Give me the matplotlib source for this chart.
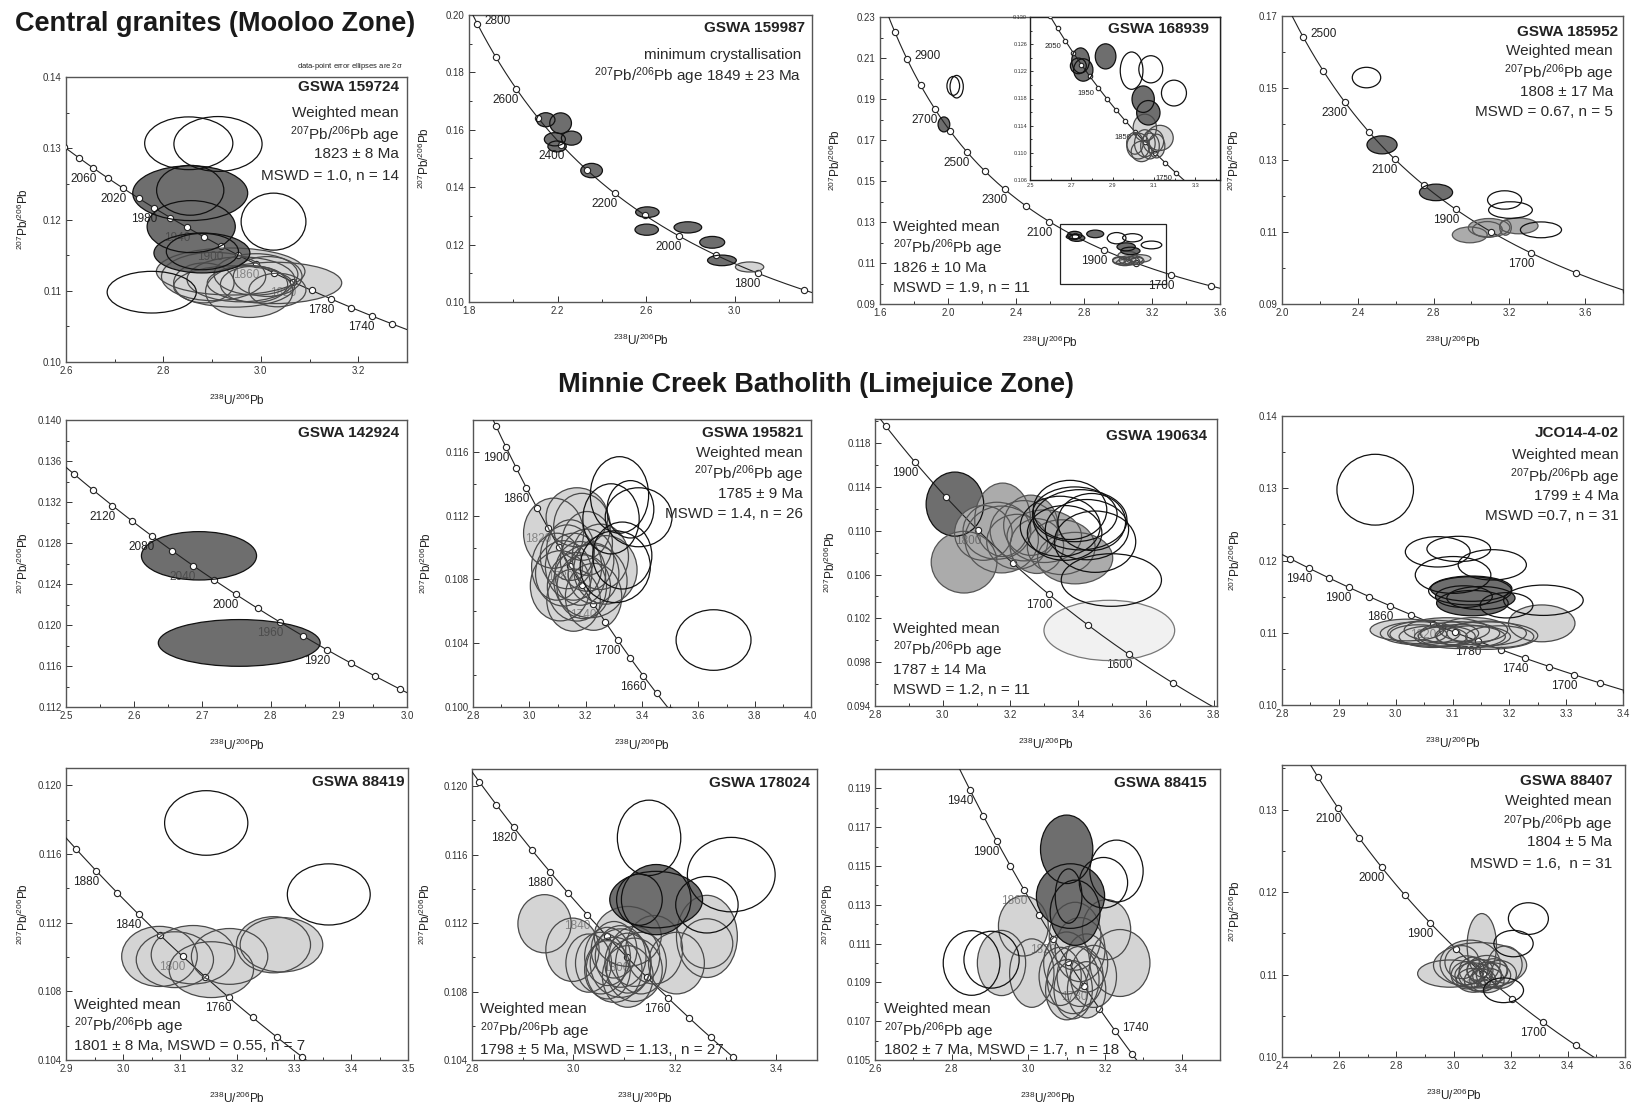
import numpy as np
import matplotlib
matplotlib.use("Agg")
import matplotlib.pyplot as plt
from matplotlib.patches import Ellipse, Rectangle
from matplotlib.ticker import FixedLocator, FormatStrFormatter
from matplotlib.colors import to_rgb

plt.rcParams['font.family'] = ['Liberation Sans', 'DejaVu Sans']
plt.rcParams['mathtext.default'] = 'regular'

# decay constants (per year) and present-day 238U/235U
L238 = 1.55125e-10
L235 = 9.8485e-10
U_RATIO = 137.88

# ---- ellipse data: (238U/206Pb, 207Pb/206Pb, 2s width, 2s height, group)
# group: 'u' = excluded (open), 'd' = older/inherited, 'm' = mid grey, 'l' = used, 'v' = pale
ell_159724 = [
    (2.938, 0.1127, 0.305, 0.0066, 'l'), (3.028, 0.1111, 0.276, 0.0058, 'l'),
    (2.976, 0.1099, 0.179, 0.0073, 'l'), (2.903, 0.1120, 0.214, 0.0068, 'l'),
    (2.959, 0.1116, 0.221, 0.0063, 'l'), (2.990, 0.1123, 0.172, 0.0058, 'l'),
    (2.945, 0.1106, 0.248, 0.0058, 'l'), (3.014, 0.1120, 0.141, 0.0056, 'l'),
    (2.883, 0.1111, 0.124, 0.0056, 'l'), (2.986, 0.1109, 0.138, 0.0051, 'l'),
    (3.034, 0.1101, 0.117, 0.0047, 'l'),
    (2.855, 0.1237, 0.236, 0.0077, 'd'), (2.855, 0.1241, 0.138, 0.0070, 'd'),
    (2.857, 0.1190, 0.181, 0.0073, 'd'), (2.879, 0.1153, 0.197, 0.0056, 'd'),
    (2.880, 0.1155, 0.148, 0.0051, 'd'),
    (2.852, 0.1307, 0.181, 0.0074, 'u'), (2.912, 0.1306, 0.181, 0.0077, 'u'),
    (3.026, 0.1197, 0.133, 0.0080, 'u'), (2.776, 0.1098, 0.183, 0.00585, 'u'),
]
ell_159987 = [
    (2.147, 0.1635, 0.083, 0.0049, 'd'), (2.214, 0.1623, 0.098, 0.0072, 'd'),
    (2.188, 0.1567, 0.095, 0.0046, 'd'), (2.263, 0.1571, 0.091, 0.0049, 'd'),
    (2.198, 0.1542, 0.083, 0.0038, 'd'), (2.354, 0.1458, 0.098, 0.0050, 'd'),
    (2.606, 0.1313, 0.106, 0.0037, 'd'), (2.603, 0.1252, 0.106, 0.0039, 'd'),
    (2.789, 0.1260, 0.125, 0.0039, 'd'), (2.899, 0.1208, 0.113, 0.0041, 'd'),
    (2.943, 0.1145, 0.130, 0.0037, 'd'), (3.068, 0.1122, 0.128, 0.0035, 'l'),
]
ell_168939 = [
    (3.129, 0.1122, 0.129, 0.0037, 'l'), (3.056, 0.1137, 0.113, 0.0040, 'l'),
    (3.024, 0.1110, 0.110, 0.0038, 'l'), (3.056, 0.1114, 0.100, 0.0040, 'l'),
    (3.081, 0.1110, 0.090, 0.0038, 'l'), (3.097, 0.1117, 0.100, 0.0035, 'l'),
    (3.008, 0.1114, 0.080, 0.0032, 'l'), (3.040, 0.1102, 0.100, 0.0030, 'l'),
    (3.113, 0.1110, 0.080, 0.0035, 'l'),
    (1.976, 0.1776, 0.069, 0.0073, 'd'),
    (2.745, 0.1236, 0.0855, 0.0037, 'd'), (2.758, 0.1222, 0.0935, 0.0033, 'd'),
    (2.734, 0.1228, 0.077, 0.0023, 'd'), (2.866, 0.1242, 0.100, 0.0037, 'd'),
    (3.048, 0.1179, 0.108, 0.0039, 'd'), (3.073, 0.1159, 0.113, 0.0036, 'd'),
    (2.031, 0.1964, 0.0745, 0.0092, 'u'), (2.051, 0.1960, 0.078, 0.0110, 'u'),
    (2.992, 0.1221, 0.110, 0.0055, 'u'), (3.085, 0.1223, 0.116, 0.0040, 'u'),
    (3.197, 0.1188, 0.121, 0.0038, 'u'),
]
ell_185952 = [
    (2.528, 0.1342, 0.159, 0.0050, 'd'), (2.813, 0.1210, 0.175, 0.0046, 'd'),
    (2.991, 0.1092, 0.184, 0.0044, 'm'), (3.093, 0.1112, 0.219, 0.0051, 'm'),
    (3.250, 0.1117, 0.203, 0.0044, 'm'), (3.084, 0.1107, 0.157, 0.0044, 'm'),
    (3.180, 0.1112, 0.061, 0.0042, 'm'),
    (2.446, 0.1529, 0.150, 0.0057, 'u'), (3.175, 0.1189, 0.180, 0.0051, 'u'),
    (3.206, 0.1161, 0.231, 0.0046, 'u'), (3.367, 0.1106, 0.217, 0.0044, 'u'),
]
ell_142924 = [
    (2.695, 0.12675, 0.1688, 0.00472, 'd'), (2.754, 0.11825, 0.2373, 0.00456, 'd'),
]
ell_195821 = [
    (3.086, 0.1109, 0.213, 0.0044, 'l'), (3.187, 0.1113, 0.201, 0.0042, 'l'),
    (3.270, 0.1086, 0.225, 0.0043, 'l'), (3.110, 0.1076, 0.213, 0.0044, 'l'),
    (3.217, 0.1079, 0.260, 0.0046, 'l'), (3.169, 0.1119, 0.219, 0.0037, 'l'),
    (3.134, 0.10942, 0.19, 0.0040, 'l'), (3.157, 0.10880, 0.20, 0.0042, 'l'),
    (3.181, 0.10838, 0.18, 0.0040, 'l'), (3.122, 0.10838, 0.20, 0.0041, 'l'),
    (3.205, 0.10921, 0.19, 0.0039, 'l'), (3.169, 0.10754, 0.21, 0.0043, 'l'),
    (3.228, 0.10838, 0.18, 0.0038, 'l'), (3.146, 0.10984, 0.17, 0.0038, 'l'),
    (3.193, 0.10754, 0.19, 0.0040, 'l'), (3.098, 0.10880, 0.18, 0.0042, 'l'),
    (3.252, 0.10942, 0.20, 0.0041, 'l'), (3.205, 0.11026, 0.18, 0.0040, 'l'),
    (3.157, 0.10670, 0.19, 0.0039, 'l'), (3.228, 0.10691, 0.20, 0.0042, 'l'),
    (3.320, 0.1133, 0.207, 0.0048, 'u'), (3.359, 0.1124, 0.166, 0.0036, 'u'),
    (3.388, 0.1119, 0.237, 0.0037, 'u'), (3.305, 0.1088, 0.249, 0.0045, 'u'),
    (3.290, 0.1118, 0.200, 0.0044, 'u'), (3.330, 0.1095, 0.210, 0.0042, 'u'),
    (3.654, 0.1042, 0.266, 0.0038, 'u'),
]
ell_190634 = [
    (3.036, 0.11243, 0.170, 0.00585, 'd'),
    (3.063, 0.10713, 0.194, 0.00563, 'm'), (3.177, 0.1110, 0.165, 0.0067, 'm'),
    (3.174, 0.1092, 0.217, 0.0061, 'm'), (3.391, 0.1075, 0.222, 0.0047, 'm'),
    (3.278, 0.1086, 0.158, 0.0050, 'm'), (3.240, 0.1100, 0.200, 0.0055, 'm'),
    (3.160, 0.1100, 0.200, 0.0052, 'm'), (3.220, 0.1090, 0.180, 0.0050, 'm'),
    (3.300, 0.1095, 0.220, 0.0048, 'm'), (3.350, 0.1085, 0.200, 0.0050, 'm'),
    (3.120, 0.1098, 0.170, 0.0050, 'm'), (3.260, 0.1105, 0.160, 0.0055, 'm'),
    (3.492, 0.1009, 0.386, 0.0055, 'v'),
    (3.376, 0.1119, 0.217, 0.0054, 'u'), (3.406, 0.1110, 0.276, 0.0055, 'u'),
    (3.426, 0.1101, 0.246, 0.0055, 'u'), (3.347, 0.1104, 0.236, 0.0055, 'u'),
    (3.498, 0.1055, 0.296, 0.0048, 'u'), (3.390, 0.1115, 0.250, 0.0050, 'u'),
    (3.440, 0.1108, 0.200, 0.0052, 'u'), (3.360, 0.1098, 0.220, 0.0050, 'u'),
    (3.450, 0.1090, 0.240, 0.0056, 'u'),
]
ell_jco14 = [
    (3.257, 0.1113, 0.117, 0.0051, 'l'),
    (3.020, 0.11038, 0.13, 0.0030, 'l'), (3.043, 0.10992, 0.14, 0.0032, 'l'),
    (3.066, 0.10946, 0.12, 0.0030, 'l'), (3.090, 0.11038, 0.15, 0.0034, 'l'),
    (3.113, 0.10992, 0.14, 0.0032, 'l'), (3.137, 0.10946, 0.13, 0.0030, 'l'),
    (3.160, 0.10992, 0.14, 0.0034, 'l'), (3.183, 0.10946, 0.12, 0.0030, 'l'),
    (3.066, 0.10992, 0.16, 0.0036, 'l'), (3.113, 0.10946, 0.16, 0.0033, 'l'),
    (3.090, 0.10950, 0.10, 0.0028, 'l'), (3.137, 0.11040, 0.12, 0.0034, 'l'),
    (3.040, 0.10980, 0.10, 0.0026, 'l'), (3.160, 0.10960, 0.18, 0.0038, 'l'),
    (3.133, 0.1161, 0.143, 0.0035, 'd'), (3.135, 0.1141, 0.126, 0.0035, 'd'),
    (3.120, 0.1150, 0.100, 0.0030, 'd'), (3.150, 0.1148, 0.120, 0.0032, 'd'),
    (2.964, 0.1298, 0.1347, 0.0098, 'u'), (3.074, 0.1212, 0.114, 0.0042, 'u'),
    (3.111, 0.1216, 0.112, 0.0035, 'u'), (3.101, 0.1180, 0.133, 0.0051, 'u'),
    (3.170, 0.1194, 0.120, 0.0042, 'u'), (3.260, 0.1145, 0.140, 0.0042, 'u'),
    (3.195, 0.1138, 0.093, 0.0035, 'u'), (3.131, 0.1158, 0.146, 0.0039, 'u'),
]
ell_88419 = [
    (3.064, 0.11003, 0.1326, 0.0035, 'l'), (3.091, 0.10984, 0.1355, 0.00325, 'l'),
    (3.123, 0.11013, 0.147, 0.0034, 'l'), (3.155, 0.10926, 0.148, 0.00325, 'l'),
    (3.187, 0.11003, 0.134, 0.00325, 'l'), (3.264, 0.11071, 0.130, 0.00327, 'l'),
    (3.278, 0.11071, 0.145, 0.00317, 'l'),
    (3.146, 0.1178, 0.146, 0.00376, 'u'), (3.361, 0.11364, 0.1454, 0.00356, 'u'),
]
ell_178024 = [
    (2.943, 0.11196, 0.105, 0.0034, 'l'), (2.998, 0.11044, 0.105, 0.0037, 'l'),
    (3.263, 0.11122, 0.120, 0.0048, 'l'), (3.263, 0.11080, 0.102, 0.0029, 'l'),
    (3.107, 0.11122, 0.132, 0.0035, 'l'), (3.159, 0.11044, 0.112, 0.0040, 'l'),
    (3.054, 0.10966, 0.10, 0.0036, 'l'), (3.067, 0.11005, 0.09, 0.0034, 'l'),
    (3.080, 0.10927, 0.11, 0.0038, 'l'), (3.093, 0.11005, 0.10, 0.0036, 'l'),
    (3.107, 0.10966, 0.09, 0.0035, 'l'), (3.120, 0.10927, 0.11, 0.0037, 'l'),
    (3.133, 0.10966, 0.10, 0.0036, 'l'), (3.080, 0.11044, 0.09, 0.0033, 'l'),
    (3.107, 0.10888, 0.10, 0.0036, 'l'), (3.093, 0.10966, 0.12, 0.0040, 'l'),
    (3.067, 0.10927, 0.09, 0.0034, 'l'), (3.120, 0.11005, 0.10, 0.0035, 'l'),
    (3.203, 0.10966, 0.11, 0.0036, 'l'), (3.030, 0.10966, 0.09, 0.0034, 'l'),
    (3.163, 0.11337, 0.183, 0.0033, 'd'), (3.163, 0.11337, 0.137, 0.0041, 'd'),
    (3.130, 0.11337, 0.090, 0.0030, 'd'),
    (3.149, 0.11698, 0.125, 0.0044, 'u'), (3.311, 0.11483, 0.173, 0.00435, 'u'),
    (3.263, 0.11307, 0.123, 0.0033, 'u'),
]
ell_88415 = [
    (2.987, 0.11191, 0.130, 0.0031, 'l'), (2.930, 0.11000, 0.126, 0.00336, 'l'),
    (3.009, 0.10948, 0.1157, 0.00353, 'l'), (3.239, 0.11000, 0.1565, 0.00345, 'l'),
    (3.204, 0.11172, 0.126, 0.0031, 'l'), (3.122, 0.11138, 0.135, 0.0035, 'l'),
    (3.117, 0.10914, 0.135, 0.0035, 'l'),
    (3.083, 0.10931, 0.11, 0.0030, 'l'), (3.100, 0.11000, 0.12, 0.0032, 'l'),
    (3.117, 0.10862, 0.10, 0.0030, 'l'), (3.135, 0.10931, 0.12, 0.0031, 'l'),
    (3.152, 0.11000, 0.11, 0.0030, 'l'), (3.170, 0.10931, 0.12, 0.0032, 'l'),
    (3.100, 0.10862, 0.11, 0.0031, 'l'), (3.135, 0.11069, 0.13, 0.0033, 'l'),
    (3.152, 0.10862, 0.10, 0.0029, 'l'),
    (3.100, 0.11586, 0.1365, 0.00353, 'd'), (3.110, 0.11345, 0.178, 0.00333, 'd'),
    (3.105, 0.11345, 0.0696, 0.0028, 'd'), (3.122, 0.11259, 0.130, 0.00336, 'd'),
    (3.230, 0.11474, 0.139, 0.00319, 'u'), (3.196, 0.11414, 0.126, 0.0026, 'u'),
    (2.852, 0.11000, 0.148, 0.00333, 'u'), (2.904, 0.11017, 0.144, 0.00293, 'u'),
]
ell_88407 = [
    (3.099, 0.11354, 0.1026, 0.0077, 'l'), (2.988, 0.11011, 0.227, 0.0033, 'l'),
    (3.093, 0.11112, 0.326, 0.0055, 'l'), (3.058, 0.11132, 0.210, 0.0057, 'l'),
    (3.047, 0.11051, 0.12, 0.0035, 'l'), (3.070, 0.10991, 0.13, 0.0030, 'l'),
    (3.093, 0.10930, 0.11, 0.0028, 'l'), (3.117, 0.11051, 0.14, 0.0036, 'l'),
    (3.140, 0.10991, 0.12, 0.0030, 'l'), (3.070, 0.11051, 0.10, 0.0032, 'l'),
    (3.093, 0.10991, 0.15, 0.0038, 'l'), (3.117, 0.10930, 0.12, 0.0030, 'l'),
    (3.140, 0.11051, 0.10, 0.0028, 'l'), (3.047, 0.10991, 0.11, 0.0033, 'l'),
    (3.093, 0.11051, 0.09, 0.0026, 'l'), (3.117, 0.10991, 0.10, 0.0031, 'l'),
    (3.070, 0.10930, 0.12, 0.0029, 'l'), (3.160, 0.11000, 0.12, 0.0034, 'l'),
    (3.030, 0.11150, 0.12, 0.0040, 'l'), (3.180, 0.11120, 0.12, 0.0045, 'l'),
    (3.262, 0.11678, 0.140, 0.00384, 'u'), (3.210, 0.11375, 0.1375, 0.0032, 'u'),
    (3.175, 0.10809, 0.140, 0.0030, 'u'),
]

# sample names and weighted-mean annotations
ids = ['GSWA 159724', 'GSWA 159987', 'GSWA 168939', 'GSWA 185952',
       'GSWA 142924', 'GSWA 195821', 'GSWA 190634', 'JCO14-4-02',
       'GSWA 88419', 'GSWA 178024', 'GSWA 88415', 'GSWA 88407']
PB = '$^{207}$Pb/$^{206}$Pb'
notes = [
    ['Weighted mean', PB + ' age', '1823 ± 8 Ma', 'MSWD = 1.0, n = 14'],
    ['minimum crystallisation', PB + ' age 1849 ± 23 Ma'],
    ['Weighted mean', PB + ' age', '1826 ± 10 Ma', 'MSWD = 1.9, n = 11'],
    ['Weighted mean', PB + ' age', '1808 ± 17 Ma', 'MSWD = 0.67, n = 5'],
    [],
    ['Weighted mean', PB + ' age', '1785 ± 9 Ma', 'MSWD = 1.4, n = 26'],
    ['Weighted mean', PB + ' age', '1787 ± 14 Ma', 'MSWD = 1.2, n = 11'],
    ['Weighted mean', PB + ' age', '1799 ± 4 Ma', 'MSWD =0.7, n = 31'],
    ['Weighted mean', PB + ' age', '1801 ± 8 Ma, MSWD = 0.55, n = 7'],
    ['Weighted mean', PB + ' age', '1798 ± 5 Ma, MSWD = 1.13,  n = 27'],
    ['Weighted mean', PB + ' age', '1802 ± 7 Ma, MSWD = 1.7,  n = 18'],
    ['Weighted mean', PB + ' age', '1804 ± 5 Ma', 'MSWD = 1.6,  n = 31'],
]

# concordia age labels per panel
age_labels = [
    [2060, 2020, 1980, 1940, 1900, 1860, 1820, 1780, 1740],
    [2800, 2600, 2400, 2200, 2000, 1800],
    [2900, 2700, 2500, 2300, 2100, 1900, 1700],
    [2500, 2300, 2100, 1900, 1700],
    [2120, 2080, 2040, 2000, 1960, 1920],
    [1900, 1860, 1820, 1780, 1740, 1700, 1660],
    [1900, 1800, 1700, 1600],
    [1940, 1900, 1860, 1820, 1780, 1740, 1700],
    [1880, 1840, 1800, 1760],
    [1920, 1880, 1840, 1800, 1760],
    [1940, 1900, 1860, 1820, 1780, 1740],
    [2100, 2000, 1900, 1800, 1700],
]
label_text_override = {9: {1920: '1820'}}
right_labels = {1: [2800], 2: [2900], 3: [2500], 10: [1740]}
inset_labels = [2050, 1950, 1850, 1750]

FILL = {'d': '#6e6e6e', 'm': '#ababab', 'l': '#d4d4d4', 'v': '#f1f1f1'}
EDGE = {'u': '#111111', 'd': '#111111', 'm': '#555555', 'l': '#4a4a4a', 'v': '#777777'}
TEXT = '#222222'

W, H = 1632, 1105
fig = plt.figure(figsize=(W / 100, H / 100), dpi=100)


def concordia(t_ma):
    t = np.asarray(t_ma, dtype=float) * 1e6
    e8 = np.exp(L238 * t) - 1
    e5 = np.exp(L235 * t) - 1
    return 1 / e8, e5 / e8 / U_RATIO


def make_axes(box, xlim, ylim, xt, yt, xminor, yminor, yfmt, xfmt='%.1f', fs=7):
    l, t, r, b = box
    ax = fig.add_axes([l / W, 1 - b / H, (r - l) / W, (b - t) / H])
    ax.set_xlim(*xlim)
    ax.set_ylim(*ylim)
    ax.xaxis.set_major_locator(FixedLocator(xt))
    ax.yaxis.set_major_locator(FixedLocator(yt))
    ax.xaxis.set_minor_locator(FixedLocator(xminor))
    ax.yaxis.set_minor_locator(FixedLocator(yminor))
    ax.xaxis.set_major_formatter(FormatStrFormatter(xfmt))
    ax.yaxis.set_major_formatter(FormatStrFormatter(yfmt))
    ax.tick_params(which='both', direction='in', top=False, right=False,
                   labelsize=fs, colors='#333333', width=0.7, pad=3)
    ax.tick_params(which='major', length=4)
    ax.tick_params(which='minor', length=2.5)
    for s in ax.spines.values():
        s.set_color('#555555')
        s.set_linewidth(1.0)
    return ax


def axis_labels(ax, box, ypad=37):
    l, t, r, b = box
    ax.set_xlabel('$^{238}$U/$^{206}$Pb', fontsize=8.5, color=TEXT)
    ax.set_ylabel(PB, fontsize=8.5, color=TEXT)
    ax.xaxis.set_label_coords(0.5, -31 / (b - t))
    ax.yaxis.set_label_coords(-ypad / (r - l), 0.5)


def draw_ellipses(ax, data):
    for i, (x, y, w, h, k) in enumerate(data):
        if k != 'u':
            ax.add_patch(Ellipse((x, y), w, h, facecolor=FILL[k],
                                 edgecolor='none', zorder=2 + i * 0.001))
    for x, y, w, h, k in data:
        ax.add_patch(Ellipse((x, y), w, h, facecolor='none',
                             edgecolor=EDGE[k], lw=0.9, zorder=4))


def label_colour(ax, data, xy, off):
    # age labels sitting on a filled ellipse are drawn faded into that fill
    p = ax.transData.transform(xy) + np.array(off)
    px, py = ax.transData.inverted().transform(p)
    fill = None
    for x, y, w, h, k in data:
        if k != 'u' and ((px - x) / (w / 2)) ** 2 + ((py - y) / (h / 2)) ** 2 < 1:
            fill = FILL[k]
    if fill is None:
        return TEXT
    a, b = np.array(to_rgb(TEXT)), np.array(to_rgb(fill))
    return tuple(0.45 * a + 0.55 * b)


def draw_concordia(ax, step, labels, data, idx=None, fs=8.5, ms=4.5, off=(-10, -11)):
    t = np.linspace(1000, 3500, 1500)
    cx, cy = concordia(t)
    ax.plot(cx, cy, color=TEXT, lw=0.8, zorder=3)
    ages = np.arange(1000, 3500 + 1, step)
    mx, my = concordia(ages)
    ax.plot(mx, my, 'o', ms=ms, mfc='white', mec=TEXT, mew=0.8, zorder=3.5)
    over = label_text_override.get(idx, {})
    rights = right_labels.get(idx, [])
    for age in labels:
        lx, ly = concordia(age)
        txt = over.get(age, str(age))
        if age in rights:
            o, ha = (7, 3), 'left'
        else:
            o, ha = off, 'center'
        col = label_colour(ax, data, (lx, ly), o)
        ax.annotate(txt, (lx, ly), xytext=o, textcoords='offset pixels',
                    ha=ha, va='center', fontsize=fs, color=col,
                    zorder=3.6, annotation_clip=True)


def id_text(ax, s, dx, dy):
    ax.annotate(s, (1, 1), xycoords='axes fraction', xytext=(dx, dy),
                textcoords='offset pixels', ha='right', va='center',
                fontsize=11, fontweight='bold', color=TEXT, zorder=6)


def note_right(ax, lines, dx, dys):
    for s, dy in zip(lines, dys):
        ax.annotate(s, (1, 1), xycoords='axes fraction', xytext=(dx, dy),
                    textcoords='offset pixels', ha='right', va='center_baseline',
                    fontsize=11, color='#2a2a2a', zorder=6)


def note_left(ax, lines, dx, dys):
    for s, dy in zip(lines, dys):
        ax.annotate(s, (0, 0), xycoords='axes fraction', xytext=(dx, dy),
                    textcoords='offset pixels', ha='left', va='center_baseline',
                    fontsize=11, color='#2a2a2a', zorder=6)


def ticks(a, b, s):
    return np.round(np.arange(a, b + s / 2, s), 4)


# ---- row titles
fig.text(15 / W, 1 - 24 / H, 'Central granites (Mooloo Zone)', fontsize=19.5,
         fontweight='bold', ha='left', va='center', color='#1a1a1a')
fig.text(816 / W, 1 - 385 / H, 'Minnie Creek Batholith (Limejuice Zone)', fontsize=19.5,
         fontweight='bold', ha='center', va='center', color='#1a1a1a')
fig.text(403 / W, 1 - 67 / H, 'data-point error ellipses are 2$\\sigma$', fontsize=5.5,
         ha='right', va='center', color=TEXT)

# ---- GSWA 159724
box = (66, 77, 407, 362)
ax = make_axes(box, (2.6, 3.3), (0.10, 0.14), ticks(2.6, 3.2, 0.2), ticks(0.10, 0.14, 0.01),
               ticks(2.6, 3.3, 0.1), ticks(0.10, 0.14, 0.005), '%.2f')
axis_labels(ax, box, 35)
draw_ellipses(ax, ell_159724)
draw_concordia(ax, 20, age_labels[0], ell_159724, 0)
id_text(ax, ids[0], -8, -10)
note_right(ax, notes[0], -8, [-35, -55, -76, -97])

# ---- GSWA 159987
box = (469, 15, 812, 302)
ax = make_axes(box, (1.8, 3.35), (0.10, 0.20), ticks(1.8, 3.0, 0.4), ticks(0.10, 0.20, 0.02),
               ticks(1.8, 3.2, 0.2), ticks(0.10, 0.20, 0.01), '%.2f')
axis_labels(ax, box)
draw_ellipses(ax, ell_159987)
draw_concordia(ax, 100, age_labels[1], ell_159987, 1)
id_text(ax, ids[1], -7, -13)
note_right(ax, notes[1], -11, [-38, -58])

# ---- GSWA 168939 with enlarged inset
box = (880, 17, 1220, 304)
ax = make_axes(box, (1.6, 3.6), (0.09, 0.23), ticks(1.6, 3.6, 0.4), ticks(0.09, 0.23, 0.02),
               ticks(1.6, 3.6, 0.2), ticks(0.09, 0.23, 0.01), '%.2f')
axis_labels(ax, box)
draw_ellipses(ax, ell_168939)
draw_concordia(ax, 100, age_labels[2], ell_168939, 2)
inset_region = (2.66, 0.100, 3.28, 0.129)
ax.add_patch(Rectangle((inset_region[0], inset_region[1]),
                       inset_region[2] - inset_region[0], inset_region[3] - inset_region[1],
                       fill=False, edgecolor=TEXT, lw=0.9, zorder=5))
note_left(ax, notes[2], 13, [79, 59, 38, 18])
ibox = (1030, 17, 1220, 180)
axi = make_axes(ibox, (2.5, 3.42), (0.106, 0.130), ticks(2.5, 3.3, 0.2), ticks(0.106, 0.130, 0.004),
                ticks(2.5, 3.4, 0.1), ticks(0.106, 0.130, 0.002), '%.3f', fs=4)
axi.tick_params(which='major', length=2.5, pad=2)
axi.tick_params(which='minor', length=1.5)
axi.set_zorder(10)
for s in axi.spines.values():
    s.set_color(TEXT)
draw_ellipses(axi, ell_168939)
draw_concordia(axi, 25, inset_labels, ell_168939, None, fs=5.5, ms=3.2, off=(-12, -6))
id_text(axi, ids[2], -11, -12)

# ---- GSWA 185952
box = (1282, 16, 1623, 304)
ax = make_axes(box, (2.0, 3.8), (0.09, 0.17), ticks(2.0, 3.6, 0.4), ticks(0.09, 0.17, 0.02),
               ticks(2.0, 3.8, 0.2), ticks(0.09, 0.17, 0.01), '%.2f')
axis_labels(ax, box, 40)
draw_ellipses(ax, ell_185952)
draw_concordia(ax, 100, age_labels[3], ell_185952, 3)
id_text(ax, ids[3], -5, -16)
note_right(ax, notes[3], -10, [-33, -54, -74, -95])

# ---- GSWA 142924
box = (66, 420, 407, 707)
ax = make_axes(box, (2.5, 3.0), (0.112, 0.140), ticks(2.5, 3.0, 0.1), ticks(0.112, 0.140, 0.004),
               ticks(2.5, 3.0, 0.05), ticks(0.112, 0.140, 0.002), '%.3f')
axis_labels(ax, box, 35)
draw_ellipses(ax, ell_142924)
draw_concordia(ax, 20, age_labels[4], ell_142924, 4)
id_text(ax, ids[4], -8, -13)

# ---- GSWA 195821
box = (473, 420, 811, 707)
ax = make_axes(box, (2.8, 4.0), (0.100, 0.118), ticks(2.8, 4.0, 0.2), ticks(0.100, 0.116, 0.004),
               ticks(2.8, 4.0, 0.1), ticks(0.100, 0.118, 0.002), '%.3f')
axis_labels(ax, box, 39)
draw_ellipses(ax, ell_195821)
draw_concordia(ax, 20, age_labels[5], ell_195821, 5)
id_text(ax, ids[5], -8, -13)
note_right(ax, notes[5], -8, [-31, -51, -72, -92])

# ---- GSWA 190634
box = (875, 419, 1217, 706)
ax = make_axes(box, (2.8, 3.81), (0.094, 0.1202), ticks(2.8, 3.8, 0.2), ticks(0.094, 0.118, 0.004),
               ticks(2.8, 3.8, 0.1), ticks(0.094, 0.120, 0.002), '%.3f')
axis_labels(ax, box)
draw_ellipses(ax, ell_190634)
draw_concordia(ax, 50, age_labels[6], ell_190634, 6)
id_text(ax, ids[6], -10, -17)
note_left(ax, notes[6], 18, [79, 59, 38, 18])

# ---- JCO14-4-02
box = (1282, 416, 1623, 705)
ax = make_axes(box, (2.8, 3.4), (0.10, 0.14), ticks(2.8, 3.4, 0.1), ticks(0.10, 0.14, 0.01),
               ticks(2.8, 3.4, 0.05), ticks(0.10, 0.14, 0.005), '%.2f')
axis_labels(ax, box, 39)
draw_ellipses(ax, ell_jco14)
draw_concordia(ax, 20, age_labels[7], ell_jco14, 7)
id_text(ax, ids[7], -4, -17)
note_right(ax, notes[7], -4, [-37, -58, -79, -99])

# ---- GSWA 88419
box = (66, 768, 408, 1060)
ax = make_axes(box, (2.9, 3.5), (0.104, 0.121), ticks(2.9, 3.5, 0.1), ticks(0.104, 0.120, 0.004),
               ticks(2.9, 3.5, 0.05), ticks(0.104, 0.120, 0.002), '%.3f')
axis_labels(ax, box, 35)
draw_ellipses(ax, ell_88419)
draw_concordia(ax, 20, age_labels[8], ell_88419, 8)
id_text(ax, ids[8], -3, -14)
note_left(ax, notes[8], 8, [57, 37, 16])

# ---- GSWA 178024
box = (472, 769, 817, 1060)
ax = make_axes(box, (2.8, 3.48), (0.104, 0.121), ticks(2.8, 3.4, 0.2), ticks(0.104, 0.120, 0.004),
               ticks(2.8, 3.4, 0.1), ticks(0.104, 0.120, 0.002), '%.3f')
axis_labels(ax, box, 39)
draw_ellipses(ax, ell_178024)
draw_concordia(ax, 20, age_labels[9], ell_178024, 9)
id_text(ax, ids[9], -7, -14)
note_left(ax, notes[9], 8, [53, 32, 12])

# ---- GSWA 88415
box = (875, 769, 1220, 1060)
ax = make_axes(box, (2.6, 3.5), (0.105, 0.120), ticks(2.6, 3.4, 0.2), ticks(0.105, 0.119, 0.002),
               ticks(2.6, 3.5, 0.1), ticks(0.105, 0.120, 0.001), '%.3f')
axis_labels(ax, box, 39)
draw_ellipses(ax, ell_88415)
draw_concordia(ax, 20, age_labels[10], ell_88415, 10)
id_text(ax, ids[10], -13, -14)
note_left(ax, notes[10], 9, [52, 32, 11])

# ---- GSWA 88407
box = (1282, 765, 1625, 1057)
ax = make_axes(box, (2.4, 3.6), (0.10, 0.1354), ticks(2.4, 3.6, 0.2), ticks(0.10, 0.13, 0.01),
               ticks(2.4, 3.6, 0.1), ticks(0.10, 0.135, 0.005), '%.2f')
axis_labels(ax, box, 39)
draw_ellipses(ax, ell_88407)
draw_concordia(ax, 50, age_labels[11], ell_88407, 11)
id_text(ax, ids[11], -13, -16)
note_right(ax, notes[11], -13, [-35, -56, -76, -97])

fig.savefig('out.png', dpi=100, facecolor='white')
